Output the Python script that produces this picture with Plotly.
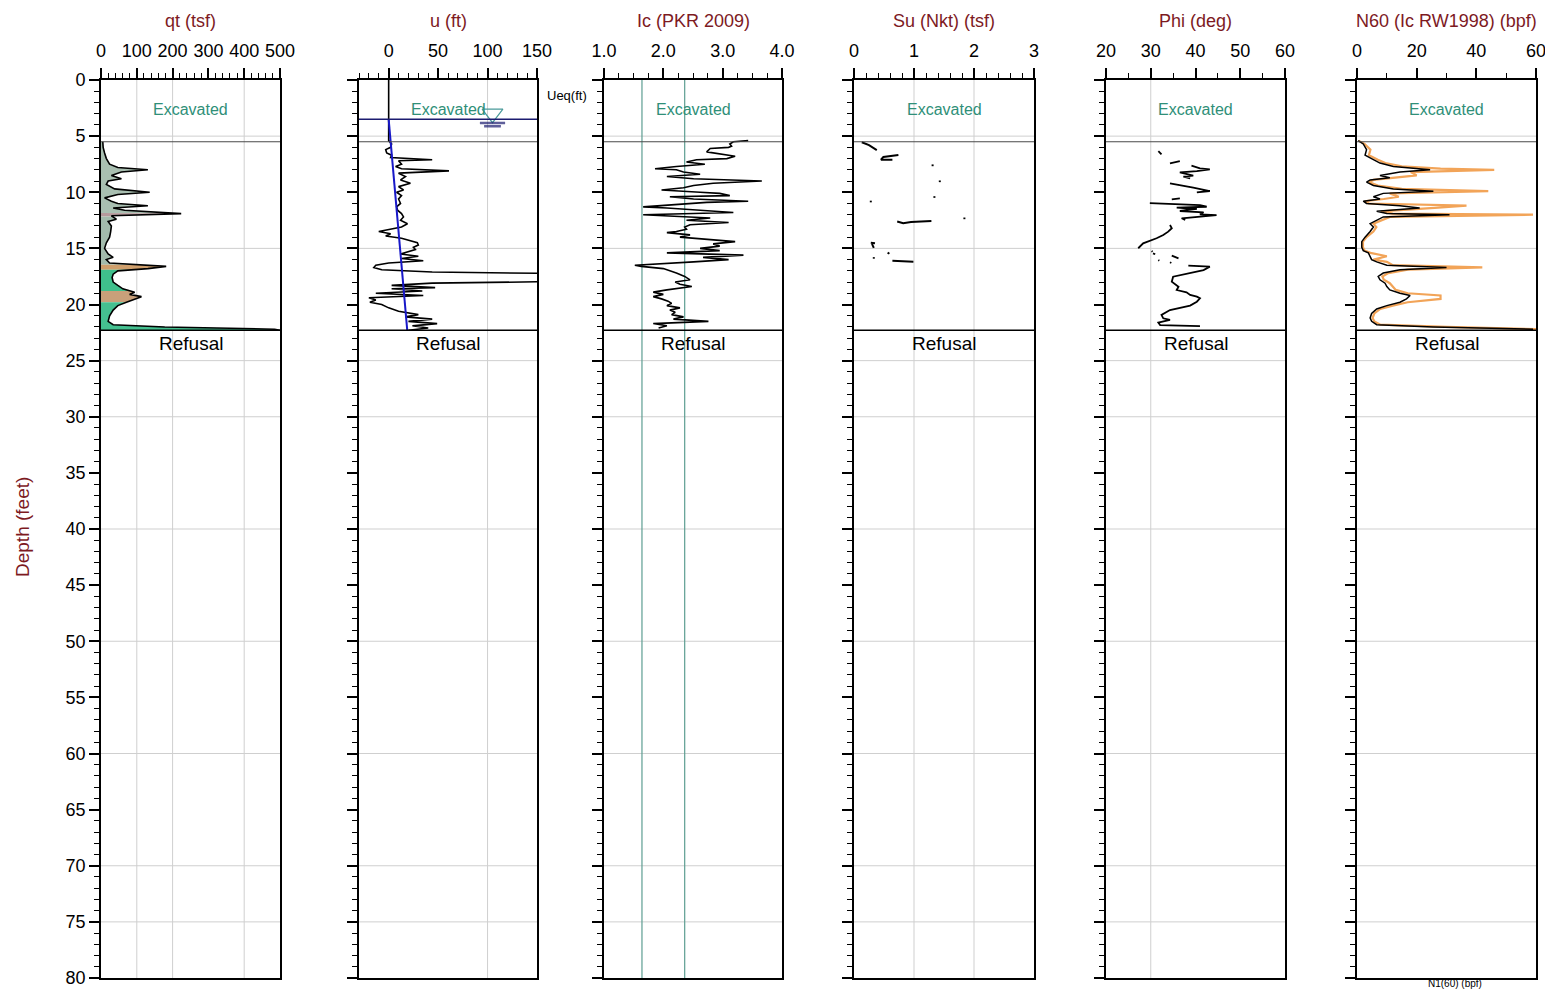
import numpy as np
import plotly.graph_objects as go

# ---------------- data ----------------
depth_max = 80
excav_depth = 5.5
refusal_depth = 22.3
depth_grid = [5, 15, 25, 30, 40, 50, 60, 70, 75]

# qt (tsf)
qt_depth = [5.5, 6.0, 6.5, 7.0, 7.5, 7.8, 8.0, 8.2, 8.5, 8.8, 9.0, 9.3, 9.7, 10.0, 10.2,
            10.5, 10.8, 11.0, 11.2, 11.4, 11.6, 11.9, 12.1, 12.4, 12.6, 13.0, 13.5, 14.0, 14.5, 15.0,
            15.5, 15.8, 16.0, 16.3, 16.6, 16.8, 17.0, 17.3, 17.6, 18.0, 18.3, 18.6, 18.9, 19.1, 19.3,
            19.5, 19.8, 20.1, 20.5, 21.0, 21.5, 21.8, 22.0, 22.2, 22.3]
qt_val = [5, 6, 10, 15, 24, 47, 131, 57, 29, 57, 20, 15, 38, 136, 47,
          10, 29, 47, 131, 34, 66, 224, 29, 43, 20, 29, 27, 24, 15, 10,
          20, 34, 15, 24, 182, 131, 47, 34, 31, 34, 47, 61, 94, 80, 113,
          94, 71, 47, 34, 24, 20, 34, 178, 485, 500]
zone_bounds = [5.5, 11.85, 12.15, 16.45, 16.9, 18.8, 19.8, 22.3]
zone_colors = ["#a9bfb1", "#b69a9c", "#a3bbac", "#cf9f6c", "#3fbf8c", "#c9a07a", "#45c090"]
qt_grid = [100, 200, 400]

# u (ft)
u_depth = [0, 5.4, 5.7, 6.0, 6.2, 6.5, 6.7, 6.9, 7.1, 7.2, 7.5, 7.7, 7.9, 8.1, 8.3,
           8.6, 8.9, 9.2, 9.5, 9.8, 10.0, 10.3, 10.6, 11.0, 11.3, 11.6, 11.9, 12.2, 12.5, 12.8,
           13.1, 13.3, 13.5, 13.7, 13.9, 14.1, 14.3, 14.5, 14.7, 14.9, 15.1, 15.3, 15.5, 15.7, 15.9,
           16.1, 16.3, 16.5, 16.7, 16.9, 17.1, 17.3, 17.6, 17.9, 18.1, 18.3, 18.5, 18.6, 18.8,
           19.0, 19.2, 19.4, 19.6, 19.8, 20.0, 20.3, 20.6, 20.9, 21.1, 21.3, 21.5, 21.7, 21.9, 22.1, 22.3]
u_val = [0, 0, 3, 2, -3, -2, 3, 2, 44, 10, 13, 7, 13, 61, 10,
         17, 12, 22, 10, 15, 8, 13, 10, 12, 8, 9, 13, 15, 12, 19,
         13, 0, -10, 2, -3, 13, 20, 29, 30, 25, 27, 20, 12, 30, 13,
         35, 0, -13, -15, -7, 44, 220, 300, 220, 44, 3, 47, 3, 34,
         -13, 35, -20, -13, -19, -7, 0, 10, 30, 17, 44, 20, 49, 24, 40, 20]
ueq_depth = [3.5, 22.3]
ueq_val = [0, 18.8]
wt_depth = 3.5
wt_u = 105
u_grid = [100]

# Ic (PKR 2009)
ic_depth = [5.4, 5.5, 5.7, 5.9, 6.0, 6.1, 6.4, 6.6, 6.8, 7.0, 7.1, 7.3, 7.5, 7.7, 7.9,
            8.0, 8.2, 8.4, 8.6, 8.8, 9.0, 9.2, 9.4, 9.6, 9.8, 10.0, 10.1, 10.3, 10.4, 10.6,
            10.8, 10.9, 11.1, 11.3, 11.4, 11.6, 11.8, 12.0, 12.2, 12.3, 12.5, 12.7, 12.9, 13.1, 13.3,
            13.5, 13.6, 13.8, 14.0, 14.2, 14.4, 14.6, 14.8, 15.0, 15.2, 15.4, 15.6, 15.8, 16.0, 16.2,
            16.4, 16.5, 16.6, 16.8, 17.2, 17.5, 17.8, 18.0, 18.2, 18.4, 18.7, 18.9, 19.1, 19.3, 19.5,
            19.7, 19.9, 20.1, 20.3, 20.5, 20.7, 20.9, 21.1, 21.3, 21.5, 21.7, 21.9, 22.1]
ic_val = [3.43, 3.18, 3.12, 3.15, 3.10, 2.79, 2.73, 2.98, 3.21, 3.07, 2.56, 2.39, 2.70, 2.22, 1.86,
          2.22, 2.34, 2.62, 2.06, 2.51, 3.66, 2.84, 2.51, 2.34, 1.97, 2.62, 2.95, 3.12, 2.11, 2.51,
          3.43, 2.73, 2.22, 1.66, 2.06, 2.56, 3.18, 1.66, 2.34, 2.79, 2.39, 3.10, 2.45, 2.36, 2.39,
          2.22, 2.06, 2.45, 2.28, 2.79, 3.21, 2.84, 2.95, 2.62, 2.95, 2.06, 3.35, 2.67, 3.10, 2.51,
          1.83, 1.52, 1.63, 2.00, 2.22, 2.36, 2.45, 2.20, 2.28, 2.48, 2.06, 1.83, 2.00, 1.83, 1.97,
          2.08, 2.14, 2.06, 2.28, 2.11, 2.20, 2.14, 2.34, 2.17, 2.76, 1.83, 2.06, 1.92]
ic_bounds = [1.64, 2.36]

# Su (Nkt) (tsf)
su_depth = [5.55, 5.8, 6.24, None, 6.68, 6.85, 7.1, 7.1, None, 7.52, 7.68, None, 8.95, 9.1, None,
            10.35, 10.5, None, 10.75, 10.9, None, 12.25, 12.4, None, 12.6, 12.75, 12.65, 12.56, None,
            14.5, 14.55, None, 14.6, 14.95, None, 15.38, 15.48, None, 15.78, 15.92, None, 16.1, 16.2]
su_val = [0.13, 0.25, 0.38, None, 0.74, 0.49, 0.45, 0.64, None, 1.31, 1.31, None, 1.43, 1.43, None,
          1.34, 1.34, None, 0.28, 0.28, None, 1.84, 1.84, None, 0.72, 0.82, 0.95, 1.29, None,
          0.28, 0.35, None, 0.30, 0.33, None, 0.56, 0.59, None, 0.33, 0.33, None, 0.64, 0.99]
su_grid = [1, 2]

# Phi (deg)
phi_depth = [6.33, 6.62, None, 7.42, 7.22, None,
             7.63, 7.87, 7.96, 8.11, 8.23, 8.40, 8.52, 8.61, 8.76, None,
             9.20, 9.35, 9.59, 9.89, 10.01, None, 10.63, 10.54, None,
             10.97, 11.05, 11.14, 11.29, 11.37, 11.49, 11.67, 11.79, 11.97, 12.03, 12.17, 12.32, 12.47, None,
             12.92, 13.21, 13.51, 13.81, 14.10, 14.34, 14.55, 14.99, None,
             15.23, 15.3, None, 15.44, 15.52, None, 15.65, 15.89, None, 16.04, 16.1, None, 16.24, 16.3, None,
             16.54, 16.63, 16.93, 17.22, 17.52, 17.97, 18.41, 18.71, 18.92, 19.15, 19.30, 19.45, 19.75,
             20.10, 20.49, 20.93, 21.23, 21.38, 21.62, 21.83, 21.92]
phi_val = [31.7, 32.4, None, 34.3, 36.5, None,
           39.1, 41.0, 43.2, 40.3, 36.5, 38.0, 39.5, 37.3, 38.8, None,
           34.3, 36.5, 39.5, 43.2, 40.3, None, 34.7, 36.5, None,
           29.8, 36.0, 41.0, 42.5, 35.8, 40.3, 36.5, 41.8, 41.0, 44.7, 40.3, 36.9, 37.7, None,
           34.3, 34.7, 33.9, 32.8, 31.3, 29.8, 28.3, 27.2, None,
           30.2, 30.4, None, 30.5, 31.0, None, 34.7, 36.2, None, 31.7, 31.9, None, 34.3, 34.6, None,
           38.4, 43.2, 41.8, 38.8, 35.0, 34.7, 36.2, 35.8, 38.0, 38.8, 40.3, 41.0, 40.3,
           38.8, 34.3, 32.4, 32.8, 34.3, 31.7, 32.1, 41.0]
phi_grid = [30]

# N60 and N1(60) (bpf)
n_depth = [5.4, 5.7, 6.2, 6.7, 7.1, 7.4, 7.7, 7.9, 8.0, 8.2, 8.5, 8.7, 8.9, 9.1, 9.4,
           9.7, 9.9, 10.1, 10.4, 10.6, 10.8, 11.0, 11.2, 11.4, 11.7, 11.9, 12.0, 12.2, 12.5, 12.8,
           13.1, 13.5, 14.0, 14.4, 14.9, 15.2, 15.4, 15.7, 16.0, 16.2, 16.5, 16.7, 16.9, 17.2, 17.5,
           17.8, 18.1, 18.4, 18.7, 19.0, 19.2, 19.5, 19.8, 20.1, 20.4, 20.8, 21.2, 21.5, 21.8, 22.0, 22.2]
n60_val = [0.4, 2.1, 3.2, 2.7, 5.5, 7.7, 12.2, 21.1, 24.5, 14.4, 7.7, 11, 4.4, 3.2, 5.5,
           12.2, 25.6, 8.8, 5.5, 7.7, 2.1, 3.2, 14.4, 21, 6.6, 10, 31, 8.8, 6.6, 4.4,
           5.5, 4.4, 2.7, 1.6, 1.6, 2.1, 3.8, 4.4, 4.9, 6.6, 10, 30, 14.4, 8.8, 7.1,
           7.7, 9.4, 10, 11, 14.4, 17.8, 16.6, 14.4, 10, 6.6, 4.9, 4.4, 4.9, 6.6, 25.6, 59]
n160_val = [0.5, 2.5, 4.5, 4, 7, 9.5, 15, 28, 46, 18, 20, 13, 5.5, 4, 7,
            15, 44, 11, 14, 9, 2.5, 4, 36.7, 26, 8, 12, 59, 11, 8, 5.5,
            6.5, 5.5, 3.2, 2, 2, 2.5, 4.5, 10, 5.5, 10, 12, 42, 17, 10.5, 8.5,
            9, 11, 12, 13, 17, 28, 28, 17, 12, 7.8, 5.8, 5.2, 5.8, 7.8, 30, 60]

# ---------------- layout constants ----------------
W, H = 1553, 990          # window
OFF = 8                   # page body margin in the browser
FW, FH = W - OFF, H - OFF # figure size so the page fits the window exactly
panel_px = [(101, 280), (359, 537), (604, 782), (854, 1034), (1106, 1285), (1357, 1536)]
titles = ["qt (tsf)", "u (ft)", "Ic (PKR 2009)", "Su (Nkt) (tsf)", "Phi (deg)", "N60 (Ic RW1998) (bpf)"]
x_ranges = [[0, 500], [-30, 150], [1, 4], [0, 3], [20, 60], [0, 60]]
x_tickvals = [[0, 100, 200, 300, 400, 500], [0, 50, 100, 150], [1, 2, 3, 4],
              [0, 1, 2, 3], [20, 30, 40, 50, 60], [0, 20, 40, 60]]
x_minor = [20, 10, 0.25, 0.2, 5, 10]
y_top_px, y_bot_px = 80, 978


def px_x(p):
    return (p - OFF) / FW


def px_y(p):
    return 1 - (p - OFF) / FH


y_dom = [px_y(y_bot_px), px_y(y_top_px)]

FONT = "Arial, Liberation Sans, sans-serif"
MAROON = "#7d1a1f"
TEAL = "#2f8f78"
GRID = "#cfcfcf"

fig = go.Figure()


def ax(i):
    return ("x" if i == 0 else f"x{i+1}"), ("y" if i == 0 else f"y{i+1}")


# qt fills by soil zone
for k in range(len(zone_colors)):
    top, bot = zone_bounds[k], zone_bounds[k + 1]
    ys = [top] + [d for d in qt_depth if top < d < bot] + [bot]
    xs = [float(np.interp(d, qt_depth, qt_val)) for d in ys]
    fig.add_trace(go.Scatter(x=[0] + xs + [0], y=[top] + ys + [bot], mode="lines",
                             fill="toself", fillcolor=zone_colors[k], line=dict(width=0),
                             hoverinfo="skip", showlegend=False, xaxis="x", yaxis="y"))
fig.add_trace(go.Scatter(x=qt_val, y=qt_depth, mode="lines", line=dict(color="black", width=1.6),
                         showlegend=False, xaxis="x", yaxis="y"))

# u
fig.add_trace(go.Scatter(x=u_val, y=u_depth, mode="lines", line=dict(color="black", width=1.6),
                         showlegend=False, xaxis="x2", yaxis="y2"))
fig.add_trace(go.Scatter(x=ueq_val, y=ueq_depth, mode="lines", line=dict(color="#1818c8", width=2),
                         showlegend=False, xaxis="x2", yaxis="y2"))
fig.add_trace(go.Scatter(x=[wt_u], y=[wt_depth - 0.5], mode="markers",
                         marker=dict(symbol="triangle-down-open", size=18, color="#4a9a9a",
                                     line=dict(width=1.2, color="#4a9a9a")),
                         showlegend=False, xaxis="x2", yaxis="y2"))
fig.add_trace(go.Scatter(x=[wt_u, wt_u], y=[wt_depth + 0.33, wt_depth + 0.62], mode="markers",
                         marker=dict(symbol="line-ew", size=[18, 12], color="#1c1c70",
                                     line=dict(width=2.5, color="#1c1c70")),
                         showlegend=False, xaxis="x2", yaxis="y2"))

# Ic
fig.add_trace(go.Scatter(x=ic_val, y=ic_depth, mode="lines", line=dict(color="black", width=1.6),
                         showlegend=False, xaxis="x3", yaxis="y3"))
# Su
fig.add_trace(go.Scatter(x=su_val, y=su_depth, mode="lines", line=dict(color="black", width=2),
                         connectgaps=False, showlegend=False, xaxis="x4", yaxis="y4"))
# Phi
fig.add_trace(go.Scatter(x=phi_val, y=phi_depth, mode="lines", line=dict(color="black", width=1.8),
                         connectgaps=False, showlegend=False, xaxis="x5", yaxis="y5"))
# N60
fig.add_trace(go.Scatter(x=n160_val, y=n_depth, mode="lines", line=dict(color="#f2a458", width=2.2),
                         showlegend=False, xaxis="x6", yaxis="y6"))
fig.add_trace(go.Scatter(x=n60_val, y=n_depth, mode="lines", line=dict(color="black", width=1.5),
                         showlegend=False, xaxis="x6", yaxis="y6"))

shapes = []
annotations = []
vgrids = [qt_grid, u_grid, [], su_grid, phi_grid, []]
layout = {}
for i in range(6):
    xn, yn = ax(i)
    x0p, x1p = panel_px[i]
    xdom = [px_x(x0p), px_x(x1p)]
    xkey = "xaxis" if i == 0 else f"xaxis{i+1}"
    ykey = "yaxis" if i == 0 else f"yaxis{i+1}"
    layout[xkey] = dict(domain=xdom, range=x_ranges[i], side="top", anchor=yn, automargin=False,
                        tickvals=x_tickvals[i], ticks="outside", ticklen=10, tickwidth=1.5,
                        tickcolor="black", showline=True, linecolor="black", linewidth=1.8,
                        mirror=True, showgrid=False, zeroline=False, ticklabelstandoff=4,
                        tickformat=".1f" if i == 2 else None,
                        tickfont=dict(family=FONT, size=18, color="black"),
                        minor=dict(ticks="outside", ticklen=5, dtick=x_minor[i], tickcolor="black",
                                   tickwidth=1, showgrid=False))
    layout[ykey] = dict(domain=y_dom, range=[depth_max, 0], anchor=xn, dtick=5, tick0=0,
                        automargin=False,
                        ticks="outside", ticklen=10, tickwidth=1.5, tickcolor="black",
                        showline=True, linecolor="black", linewidth=1.8, mirror=True,
                        showgrid=False, zeroline=False, showticklabels=(i == 0),
                        tickfont=dict(family=FONT, size=18, color="black"),
                        minor=dict(ticks="outside", ticklen=5, dtick=1, tickcolor="black",
                                   tickwidth=1, showgrid=False))
    for d in depth_grid:
        shapes.append(dict(type="line", xref=f"{xn} domain", yref=yn, x0=0, x1=1, y0=d, y1=d,
                           line=dict(color=GRID, width=1), layer="below"))
    for g in vgrids[i]:
        shapes.append(dict(type="line", xref=xn, yref=f"{yn} domain", x0=g, x1=g, y0=0, y1=1,
                           line=dict(color=GRID, width=1), layer="below"))
    shapes.append(dict(type="line", xref=f"{xn} domain", yref=yn, x0=0, x1=1,
                       y0=excav_depth, y1=excav_depth, line=dict(color="#4a4a4a", width=1.2)))
    shapes.append(dict(type="line", xref=f"{xn} domain", yref=yn, x0=0, x1=1,
                       y0=refusal_depth, y1=refusal_depth, line=dict(color="black", width=1.6)))
    annotations.append(dict(text=titles[i], xref="paper", yref="paper", x=(xdom[0] + xdom[1]) / 2,
                            y=px_y(9), showarrow=False, yanchor="top", xanchor="center",
                            font=dict(family=FONT, size=18, color=MAROON)))
    annotations.append(dict(text="Excavated", xref=f"{xn} domain", yref=yn, x=0.5, y=2.65,
                            showarrow=False, font=dict(family=FONT, size=16, color=TEAL)))
    annotations.append(dict(text="Refusal", xref=f"{xn} domain", yref=yn, x=0.5, y=23.45,
                            showarrow=False, font=dict(family=FONT, size=19, color="black")))

for b in ic_bounds:
    shapes.append(dict(type="line", xref="x3", yref="y3 domain", x0=b, x1=b, y0=0, y1=1,
                       line=dict(color="#5d9e92", width=1.2), layer="below"))
shapes.append(dict(type="line", xref="x2 domain", yref="y2", x0=0, x1=1, y0=wt_depth, y1=wt_depth,
                   line=dict(color="#1c1c70", width=1.6)))

annotations.append(dict(text="Ueq(ft)", xref="paper", yref="paper", x=px_x(567), y=px_y(95),
                        xanchor="center", yanchor="middle", showarrow=False,
                        font=dict(family=FONT, size=13, color="black")))
annotations.append(dict(text="Depth (feet)", xref="paper", yref="paper", x=px_x(22), y=px_y(527),
                        xanchor="center", yanchor="middle", showarrow=False, textangle=-90,
                        font=dict(family=FONT, size=19, color=MAROON)))
annotations.append(dict(text="N1(60) (bpf)", xref="paper", yref="paper", x=px_x(1455), y=px_y(989.5),
                        xanchor="center", yanchor="bottom", showarrow=False, borderpad=0,
                        font=dict(family=FONT, size=10, color="black")))

fig.update_layout(width=FW, height=FH, margin=dict(l=0, r=0, t=0, b=0, pad=0, autoexpand=False),
                  plot_bgcolor="white", paper_bgcolor="white",
                  shapes=shapes, annotations=annotations, showlegend=False, **layout)

fig.write_html("out.html")
